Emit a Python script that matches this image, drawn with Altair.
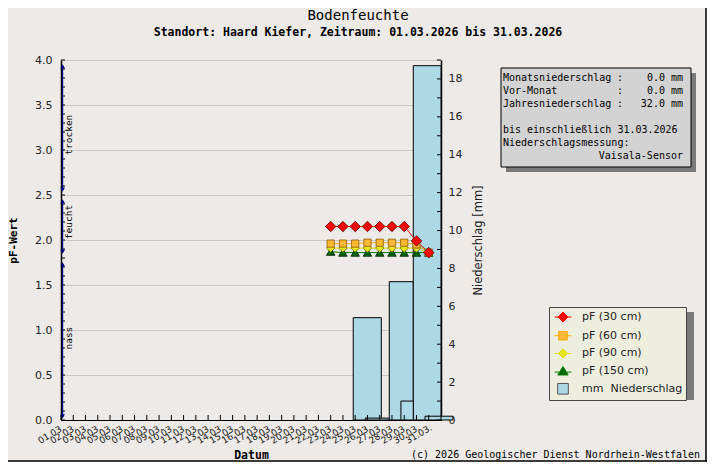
import altair as alt
import pandas as pd

# ---------------- data ----------------
days = [23, 24, 25, 26, 27, 28, 29, 30, 31]
pf_30 = [2.15, 2.15, 2.15, 2.15, 2.15, 2.15, 2.15, 1.99, 1.86]
pf_60 = [1.96, 1.96, 1.96, 1.97, 1.97, 1.97, 1.97, 1.95, 1.86]
pf_90 = [1.91, 1.91, 1.91, 1.91, 1.91, 1.91, 1.91, 1.91, 1.85]
pf_150 = [1.87, 1.86, 1.86, 1.86, 1.86, 1.86, 1.86, 1.86, 1.86]
series_names = ["pF (30 cm)", "pF (60 cm)", "pF (90 cm)", "pF (150 cm)"]
rain_label = "mm\u00a0\u00a0Niederschlag"

rain_start = [24.84, 27.78, 29.74, 25.82, 28.73, 30.70]
rain_end = [27.13, 29.74, 32.00, 27.78, 29.74, 32.97]
rain_mm = [5.4, 7.3, 18.7, 0.1, 1.0, 0.2]

zone_names = ["nass", "feucht", "trocken"]
zone_low = [0.04, 1.87, 2.56]
zone_high = [1.73, 2.43, 3.93]
zone_text_pos = [0.91, 2.20, 3.17]

day_ticks = list(range(1, 33))
pf_label_vals = [0.0, 0.5, 1.0, 1.5, 2.0, 2.5, 3.0, 3.5, 4.0]
pf_tick_vals = [i / 10 for i in range(41)]
mm_label_vals = [0, 2, 4, 6, 8, 10, 12, 14, 16, 18]
mm_tick_vals = list(range(0, 20))

title_text = "Bodenfeuchte"
subtitle_text = "Standort: Haard Kiefer, Zeitraum: 01.03.2026 bis 31.03.2026"
info_left = ["Monatsniederschlag", "Vor-Monat", "Jahresniederschlag", "",
             "bis einschließlich 31.03.2026", "Niederschlagsmessung:", ""]
info_colon = [":", ":", ":", "", "", "", ""]
info_right = ["0.0 mm", "0.0 mm", "32.0 mm", "", "", "", "Vaisala-Sensor"]
copyright_text = "(c) 2026 Geologischer Dienst Nordrhein-Westfalen"

# ---------------- styles ----------------
MONO = "DejaVu Sans Mono"
SANS = "DejaVu Sans"
legend_domain = series_names + [rain_label]
fill_range = ["#FF0000", "#FFB833", "#E5E51A", "#006400", "#ADD8E6"]
line_range = ["#FF0000", "#FFAA00", "#DDDD00", "#008000", "#555555"]
legend_paths = [
    "M-1.3,0H-0.77M0.77,0H1.3M0,-0.77L0.77,0L0,0.77L-0.77,0Z",
    "M-1.3,0H-0.66M0.66,0H1.3M-0.66,-0.66H0.66V0.66H-0.66Z",
    "M-1.3,0H-0.7M0.7,0H1.3M0,-0.7L0.7,0L0,0.7L-0.7,0Z",
    "M-1.3,0.15H-0.6M0.6,0.15H1.3M0,-0.7L0.8,0.6L-0.8,0.6Z",
    "M-0.82,-0.82H0.82V0.82H-0.82Z",
]
marker_shape = ["diamond", "square", "diamond", "triangle-up"]
marker_size = [110, 52, 72, 72]
marker_stroke = ["#600000", "#8A5A00", "#6A6A00", "#002000"]

# ---------------- tables ----------------
rows = []
for name, vals in zip(series_names, [pf_30, pf_60, pf_90, pf_150]):
    for d, v in zip(days, vals):
        rows.append({"day": d, "pf": v, "series": name})
df_pf = pd.DataFrame(rows)
df_rain = pd.DataFrame({"start": rain_start, "end": rain_end, "mm": rain_mm})
df_zone = pd.DataFrame({"zone": zone_names, "lo": zone_low, "hi": zone_high, "mid": zone_text_pos})
df_days = pd.DataFrame({"day": day_ticks})
df_pft = pd.DataFrame({"pf": pf_tick_vals})
df_mmt = pd.DataFrame({"mm": mm_tick_vals})
df_leg = pd.DataFrame({"series": legend_domain})
one = pd.DataFrame({"a": [0]})

x_scale = alt.Scale(domain=[1, 32], nice=False, zero=False)
pf_scale = alt.Scale(domain=[0, 4], nice=False, zero=False)
mm_scale = alt.Scale(domain=[0, 19], nice=False, zero=False)
color_scale = alt.Scale(domain=legend_domain, range=fill_range)
stroke_scale = alt.Scale(domain=legend_domain, range=line_range)
shape_scale = alt.Scale(domain=legend_domain, range=legend_paths)

x_axis = alt.Axis(
    values=day_ticks,
    labelExpr="datum.value > 31 ? '' : ((datum.value < 10 ? '0' : '') + datum.value + '.03.')",
    labelAngle=330, labelAlign="right", labelBaseline="top",
    labelFont=SANS, labelFontSize=9, labelColor="#222",
    labelOverlap=False, labelFlush=False, labelBound=False, labelPadding=3,
    tickSize=0, domainColor="black", domainWidth=1, grid=False,
    title="Datum", titleFont=MONO, titleFontSize=11.5, titleFontWeight="bold",
    titleColor="black", titlePadding=4,
)
pf_axis = alt.Axis(
    orient="left", values=pf_label_vals, format=".1f", tickSize=0,
    labelPadding=9, labelFont=SANS, labelFontSize=11, labelColor="#222",
    grid=True, gridColor="#C8C8C8", gridWidth=1,
    domainColor="black", domainWidth=1.5,
    title="pF-Wert", titleFont=MONO, titleFontSize=11, titleFontWeight="bold",
    titleColor="black", titlePadding=16,
)
mm_axis = alt.Axis(
    orient="right", values=mm_label_vals, tickSize=0, labelPadding=7,
    labelFont=SANS, labelFontSize=11, labelColor="#222", grid=False,
    domainColor="black", domainWidth=1.5,
    title="Niederschlag [mm]", titleAngle=270, titleFont=SANS, titleFontSize=11.5,
    titleFontWeight="normal", titleColor="#222", titlePadding=22,
)


def X(field):
    return alt.X(field, scale=x_scale, axis=x_axis)


def XD(v):
    return alt.X(datum=v, scale=x_scale, axis=x_axis)


def YP(field):
    return alt.Y(field, scale=pf_scale, axis=pf_axis)


def YM(field):
    return alt.Y(field, scale=mm_scale, axis=mm_axis)


# ---------------- precipitation group (right axis) ----------------
bars = alt.Chart(df_rain).mark_rect(fill="#ADD8E6", stroke="black", strokeWidth=1).encode(
    x=X("start:Q"), x2="end:Q", y=YM("mm:Q"), y2=alt.datum(0),
)
mm_ticks = alt.Chart(df_mmt).mark_rule(color="black", strokeWidth=1).encode(
    y=YM("mm:Q"), x=alt.value(376), x2=alt.value(380)
)
mm_group = alt.layer(bars, mm_ticks)

# ---------------- pF group (left axis) ----------------
line_layers = []
for i in [3, 2, 1, 0]:
    line_layers.append(
        alt.Chart(df_pf).transform_filter(alt.datum.series == series_names[i])
        .mark_line(strokeWidth=1, color=line_range[i])
        .encode(x=X("day:Q"), y=YP("pf:Q"))
    )
point_layers = []
for i in [3, 2, 1, 0]:
    point_layers.append(
        alt.Chart(df_pf).transform_filter(alt.datum.series == series_names[i])
        .mark_point(shape=marker_shape[i], filled=True, fill=fill_range[i],
                    stroke=marker_stroke[i], strokeWidth=0.8, size=marker_size[i], opacity=1)
        .encode(x=X("day:Q"), y=YP("pf:Q"))
    )

day_tick_rules = alt.Chart(df_days).mark_rule(color="black", strokeWidth=1).encode(
    x=X("day:Q"), y=alt.value(355), y2=alt.value(360)
)
pf_tick_rules = alt.Chart(df_pft).mark_rule(color="black", strokeWidth=1).encode(
    y=YP("pf:Q"), x=alt.value(0), x2=alt.value(4)
)

zone_line = alt.Chart(df_zone).mark_rule(color="#000080", strokeWidth=1.2).encode(
    x=XD(1.13), y=YP("lo:Q"), y2="hi:Q"
)
zone_top = alt.Chart(df_zone).mark_point(shape="triangle-up", filled=True, color="#000080",
                                         size=22, opacity=1).encode(x=XD(1.13), y=YP("hi:Q"))
zone_bot = alt.Chart(df_zone).mark_point(shape="triangle-down", filled=True, color="#000080",
                                         size=22, opacity=1).encode(x=XD(1.13), y=YP("lo:Q"))
zone_text = alt.Chart(df_zone).mark_text(angle=270, align="center", baseline="top",
                                         font=MONO, fontSize=9.5, color="black").encode(
    x=XD(1.28), y=YP("mid:Q"), text="zone:N"
)

leg = alt.Legend(
    title=None, orient="none", legendX=488, legendY=247,
    fillColor="#EEEEDF", strokeColor="#444444", padding=3, rowPadding=3.7,
    symbolOffset=4, labelOffset=12, labelFont=SANS, labelFontSize=11,
    labelColor="#222", symbolSize=169, symbolStrokeWidth=1, zindex=1, labelLimit=300)
legend_layer = alt.Chart(df_leg).transform_filter("false").mark_point(
    filled=True, opacity=1, strokeWidth=1, size=169
).encode(
    color=alt.Color("series:N", scale=color_scale, legend=leg),
    shape=alt.Shape("series:N", scale=shape_scale, legend=leg),
    stroke=alt.Stroke("series:N", scale=stroke_scale, legend=leg),
)


# ---------------- annotations ----------------
def box(x1, x2, y1, y2, fill, stroke=None):
    kw = dict(fill=fill)
    if stroke:
        kw.update(stroke=stroke, strokeWidth=1)
    return alt.Chart(one).mark_rect(**kw).encode(
        x=alt.value(x1), x2=alt.value(x2), y=alt.value(y1), y2=alt.value(y2))


info_shadow = box(445, 635, 13, 112, "#7A7A7A")
info_box = box(440, 630, 8, 107, "#D3D3D3", "black")
legend_shadow = box(493, 633, 252, 340, "#7A7A7A")


def text(x, y, val, **kw):
    return alt.Chart(one).mark_text(**kw).encode(x=alt.value(x), y=alt.value(y), text=alt.value(val))


t_title = text(297, -44, title_text, font=MONO, fontSize=14, align="center", baseline="middle", color="black")
t_sub = text(297, -27, subtitle_text, font=MONO, fontSize=11.5, fontWeight="bold",
             align="center", baseline="middle", color="black")
info_texts = []
for i in range(len(info_left)):
    yy = 18 + 13 * i
    if info_left[i]:
        info_texts.append(text(442, yy, info_left[i], font=MONO, fontSize=10, align="left",
                               baseline="middle", color="black"))
    if info_colon[i]:
        info_texts.append(text(556, yy, info_colon[i], font=MONO, fontSize=10, align="left",
                               baseline="middle", color="black"))
    if info_right[i]:
        info_texts.append(text(622, yy, info_right[i], font=MONO, fontSize=10, align="right",
                               baseline="middle", color="black"))
t_copy = text(639, 395, copyright_text, font=MONO, fontSize=10, align="right", baseline="middle",
              color="black")
frame_r = alt.Chart(one).mark_rule(color="black", strokeWidth=1.5).encode(
    x=alt.value(645), y=alt.value(-52), y2=alt.value(402))
frame_b = alt.Chart(one).mark_rule(color="black", strokeWidth=1.5).encode(
    x=alt.value(-53), x2=alt.value(646), y=alt.value(401))

pf_group = alt.layer(
    *line_layers, *point_layers, day_tick_rules, pf_tick_rules,
    zone_line, zone_top, zone_bot, zone_text, legend_layer,
    info_shadow, info_box, legend_shadow,
    t_title, t_sub, *info_texts, t_copy, frame_r, frame_b,
)

chart = alt.layer(mm_group, pf_group).resolve_scale(y="independent").properties(
    width=380, height=360,
    padding={"left": 53, "top": 52, "right": 266, "bottom": 42},
    autosize="none",
    background="#EDEAE8",
).configure_view(stroke=None, fill="white")

chart.save("out.html", embed_options={"renderer": "svg", "actions": False})
